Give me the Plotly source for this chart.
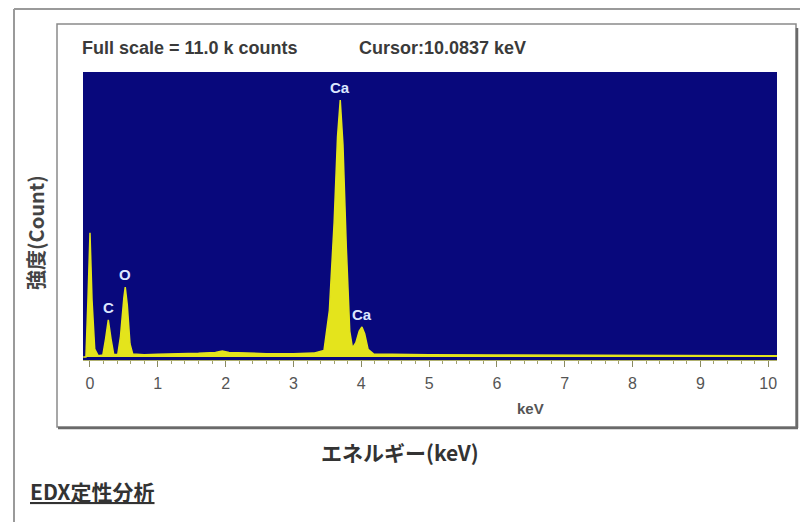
import plotly.graph_objects as go

# ---- data ----
energy_kev = [-0.10, -0.06, -0.03, 0.00, 0.03, 0.07, 0.12,
              0.19, 0.23, 0.27, 0.31, 0.35,
              0.41, 0.45, 0.50, 0.52, 0.55, 0.59, 0.63,
              0.80, 1.00, 1.30, 1.60, 1.85, 1.95, 2.05, 2.30, 2.60, 3.00, 3.30,
              3.45, 3.53, 3.60, 3.65, 3.69, 3.73, 3.78, 3.83, 3.87,
              3.92, 3.97, 4.01, 4.05, 4.10, 4.18,
              4.50, 5.00, 6.00, 7.00, 8.00, 9.00, 10.00, 10.13]
counts = [0, 0, 2200, 4790, 2200, 300, 50,
          80, 700, 1430, 700, 100,
          100, 800, 2300, 2700, 2000, 500, 120,
          90, 110, 120, 140, 170, 230, 170, 140, 130, 130, 150,
          250, 1800, 5200, 8500, 9920, 8200, 4200, 1000, 350,
          550, 1000, 1160, 900, 300, 120,
          100, 90, 80, 70, 60, 55, 50, 50]

peak_labels = ["C", "O", "Ca", "Ca"]
peak_energy = [0.27, 0.52, 3.69, 4.01]
peak_counts = [1430, 2700, 9920, 1160]

tick_values = list(range(0, 11))
tick_text = [str(v) for v in tick_values]

full_scale_text = "Full scale = 11.0 k counts"
cursor_text = "Cursor:10.0837 keV"
y_title = "強度(Count)"
x_title = "エネルギー(keV)"
unit_text = "keV"
caption = "<u>EDX定性分析</u>"

# ---- layout geometry (page has an 8px body margin) ----
OFF = 8
W, H = 808 - OFF, 526 - OFF
L, R, T, B = 83, 777, 72, 360          # target screen pixels of the plot area
PW, PH = R - L, B - T


def px(x):
    return (x - L) / PW


def py(y):
    return (B - y) / PH


fig = go.Figure()
fig.add_trace(go.Scatter(
    x=energy_kev, y=counts, mode="lines", fill="tozeroy",
    line=dict(color="#e4e41c", width=1.5), fillcolor="#e4e41c",
    hoverinfo="skip", showlegend=False))

annotations = []
for lab, e, c in zip(peak_labels, peak_energy, peak_counts):
    annotations.append(dict(
        x=e, y=c, xref="x", yref="y", text="<b>%s</b>" % lab, showarrow=False,
        xanchor="center", yanchor="bottom", yshift=2,
        font=dict(family="Liberation Sans", size=15, color="#dde6ff")))


def label(x, y, text, xanchor="center", **kw):
    return dict(x=px(x), y=py(y), xref="paper", yref="paper", text=text,
                showarrow=False, xanchor=xanchor, yanchor="middle", **kw)


annotations += [
    label(80, 48, "<b>%s</b>" % full_scale_text, xanchor="left",
          font=dict(family="Liberation Sans", size=18, color="#3a3a3a")),
    label(357, 48, "<b>%s</b>" % cursor_text, xanchor="left",
          font=dict(family="Liberation Sans", size=18, color="#3a3a3a")),
    label(530, 408, "<b>%s</b>" % unit_text,
          font=dict(family="Liberation Sans", size=15, color="#555555")),
    label(35, 232, "<b>%s</b>" % y_title, textangle=-90,
          font=dict(family="Noto Sans CJK JP", size=20, color="#444444")),
    label(400, 452, "<b>%s</b>" % x_title, xanchor="center",
          font=dict(family="Noto Sans CJK JP", size=21, color="#333333")),
    label(28, 491, "<b>%s</b>" % caption, xanchor="left",
          font=dict(family="Noto Sans CJK JP", size=21, color="#333333")),
]

shapes = [
    # outer frame
    dict(type="line", xref="paper", yref="paper", x0=px(14), x1=px(808), y0=py(9), y1=py(9),
         line=dict(color="#9a9a9a", width=2)),
    dict(type="line", xref="paper", yref="paper", x0=px(14), x1=px(14), y0=py(9), y1=py(522),
         line=dict(color="#9a9a9a", width=2)),
    # inner panel
    dict(type="rect", xref="paper", yref="paper", x0=px(57), x1=px(796), y0=py(24), y1=py(427),
         line=dict(color="#8a8a8a", width=1.5)),
    dict(type="line", xref="paper", yref="paper", x0=px(797), x1=px(797), y0=py(28), y1=py(428),
         line=dict(color="#6a6a6a", width=2.5)),
    dict(type="line", xref="paper", yref="paper", x0=px(58), x1=px(798), y0=py(428), y1=py(428),
         line=dict(color="#6a6a6a", width=2.5)),
]

fig.update_layout(
    width=W, height=H,
    margin=dict(l=L - OFF, r=(W + OFF) - R, t=T - OFF, b=(H + OFF) - B),
    paper_bgcolor="white", plot_bgcolor="#08087c",
    showlegend=False,
    annotations=annotations, shapes=shapes,
    xaxis=dict(range=[-0.103, 10.13], showgrid=False, zeroline=False,
               tickmode="array", tickvals=tick_values, ticktext=tick_text,
               ticks="outside", ticklen=6, tickcolor="#8a8a60", tickwidth=1,
               ticklabelstandoff=3,
               minor=dict(dtick=0.2, ticks="outside", ticklen=3, tickcolor="#a0a070", showgrid=False),
               tickfont=dict(family="Liberation Sans", size=16, color="#555555"),
               showline=True, linecolor="#b0b070", linewidth=1, fixedrange=True),
    yaxis=dict(range=[-116, 11000], showgrid=False, zeroline=False,
               showticklabels=False, ticks="", showline=False, fixedrange=True),
)

fig.write_html("out.html")
